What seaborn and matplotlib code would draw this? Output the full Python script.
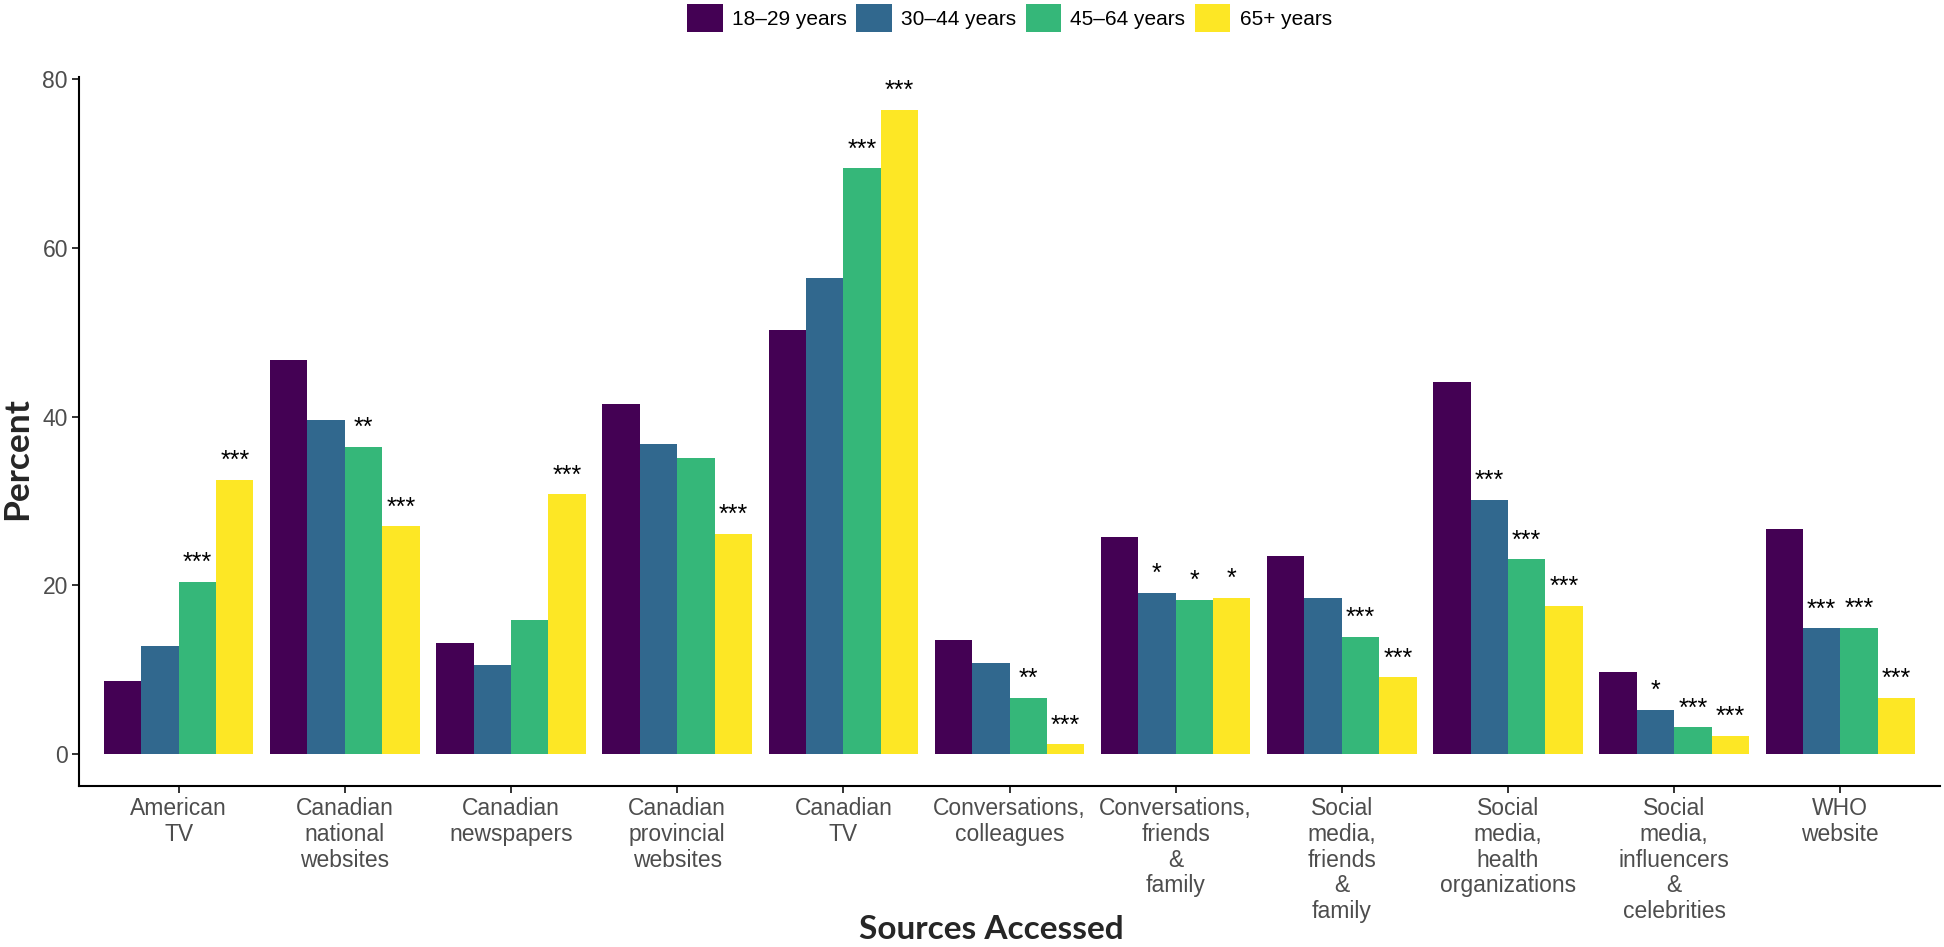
import pandas as pd
import matplotlib
matplotlib.use("Agg")
import matplotlib.pyplot as plt
import seaborn as sns

# data
sources = ["American TV", "Canadian national websites", "Canadian newspapers",
           "Canadian provincial websites", "Canadian TV", "Conversations, colleagues",
           "Conversations, friends & family", "Social media, friends & family",
           "Social media, health organizations", "Social media, influencers & celebrities",
           "WHO website"]
tick_labels = ["American\nTV", "Canadian\nnational\nwebsites", "Canadian\nnewspapers",
               "Canadian\nprovincial\nwebsites", "Canadian\nTV", "Conversations,\ncolleagues",
               "Conversations,\nfriends\n&\nfamily", "Social\nmedia,\nfriends\n&\nfamily",
               "Social\nmedia,\nhealth\norganizations", "Social\nmedia,\ninfluencers\n&\ncelebrities",
               "WHO\nwebsite"]
age_groups = ["18–29 years", "30–44 years", "45–64 years", "65+ years"]

age_18_29 = [8.7, 46.7, 13.2, 41.5, 50.3, 13.5, 25.7, 23.5, 44.1, 9.7, 26.7]
age_30_44 = [12.8, 39.6, 10.6, 36.8, 56.4, 10.8, 19.1, 18.5, 30.1, 5.3, 14.9]
age_45_64 = [20.4, 36.4, 15.9, 35.1, 69.4, 6.7, 18.3, 13.9, 23.1, 3.2, 15.0]
age_65_plus = [32.5, 27.0, 30.8, 26.1, 76.3, 1.2, 18.5, 9.1, 17.6, 2.2, 6.7]

# significance stars vs 18-29
sig_18_29 = [""] * 11
sig_30_44 = ["", "", "", "", "", "", "*", "", "***", "*", "***"]
sig_45_64 = ["***", "**", "", "", "***", "**", "*", "***", "***", "***", "***"]
sig_65_plus = ["***", "***", "***", "***", "***", "***", "*", "***", "***", "***", "***"]

colors = ["#440154", "#31688E", "#35B779", "#FDE725"]

# long table for seaborn
rows = []
for grp, vals in zip(age_groups, [age_18_29, age_30_44, age_45_64, age_65_plus]):
    for src, v in zip(sources, vals):
        rows.append({"Source": src, "Age": grp, "Percent": v})
df = pd.DataFrame(rows)

sns.set_theme(style="ticks")
plt.rcParams['font.family'] = ['Liberation Sans', 'DejaVu Sans']

fig = plt.figure(figsize=(19.44, 9.47), dpi=100)
ax = fig.add_axes([79 / 1944, 1 - 786 / 947, 1861 / 1944, 709 / 947])

sns.barplot(data=df, x="Source", y="Percent", hue="Age", order=sources,
            hue_order=age_groups, palette=colors, errorbar=None,
            width=0.9, gap=0, linewidth=0, saturation=1, ax=ax)

# stars above the bars
for cont, stars in zip(ax.containers, [sig_18_29, sig_30_44, sig_45_64, sig_65_plus]):
    for bar, s in zip(cont, stars):
        if s:
            ax.text(bar.get_x() + bar.get_width() / 2, bar.get_height() + 1.4, s,
                    ha="center", va="baseline", fontsize=18, color="black")

ax.set_xlim(-0.6, len(sources) - 0.4)
ax.set_ylim(-3.75, 80.2)
ax.set_yticks([0, 20, 40, 60, 80])
ax.set_xticks(range(len(sources)))
ax.set_xticklabels(tick_labels, linespacing=1.15)
ax.tick_params(axis="both", labelsize=16.5, labelcolor="#4D4D4D", length=5,
               width=1.4, color="#333333", pad=3)
sns.despine(ax=ax)
for sp in ["left", "bottom"]:
    ax.spines[sp].set_linewidth(1.5)
    ax.spines[sp].set_color("black")

ax.set_xlabel("Sources Accessed", fontsize=24, fontweight="bold", family="Lato")
ax.set_ylabel("Percent", fontsize=25.5, fontweight="bold", family="Lato")
ax.xaxis.set_label_coords(0.49, -(929 - 786) / 709)
ax.xaxis.label.set_va("center")
ax.yaxis.set_label_coords((17 - 79) / 1861, (786 - 459) / 709)
ax.yaxis.label.set_va("center")

sns.move_legend(ax, "upper center", bbox_to_anchor=(0.5, 1 + 73 / 709), ncol=4,
                title=None, frameon=False, fontsize=15, handlelength=1.7,
                handleheight=1.7, handletextpad=0.45, columnspacing=0.45,
                borderaxespad=0, borderpad=0)
for t in ax.get_legend().get_texts():
    t.set_color("black")

fig.savefig("out.png", dpi=100)
